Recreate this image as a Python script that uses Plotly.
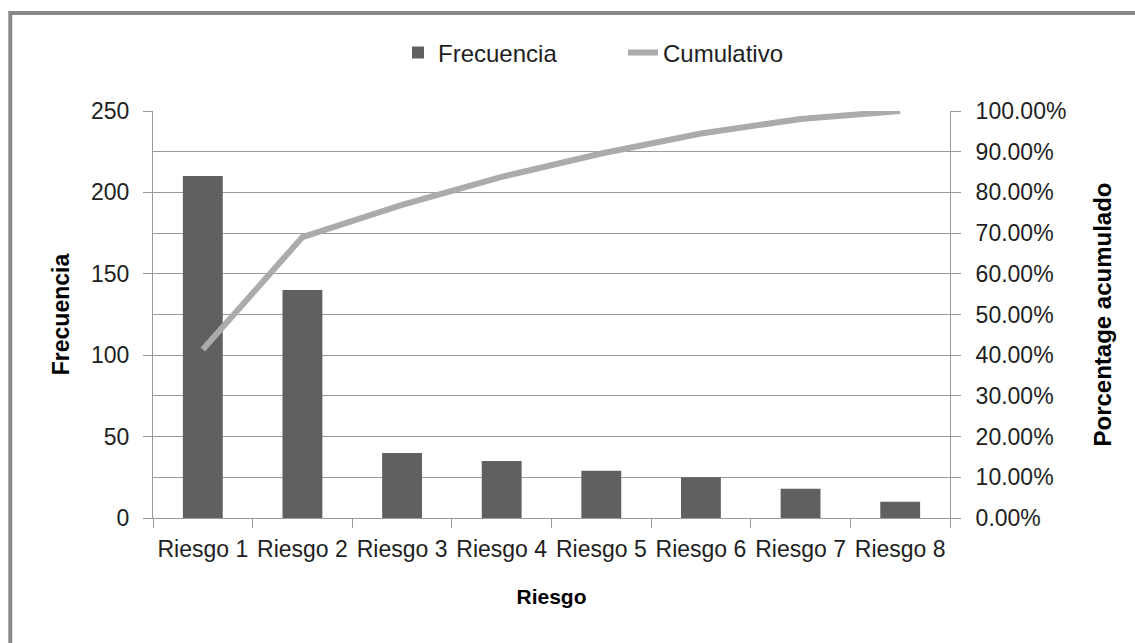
import plotly.graph_objects as go

# Pareto data: frequency per risk and cumulative share
riesgos = ["Riesgo 1", "Riesgo 2", "Riesgo 3", "Riesgo 4",
           "Riesgo 5", "Riesgo 6", "Riesgo 7", "Riesgo 8"]
frecuencia = [210, 140, 40, 35, 29, 25, 18, 10]
cumulativo = [0.4142, 0.6903, 0.7692, 0.8383, 0.8955, 0.9448, 0.9803, 1.0]

freq_ticks = [0, 50, 100, 150, 200, 250]
pct_ticks = [i / 10 for i in range(11)]

W, H = 1135, 643
L, R, T, B = 153, 185, 111, 125
PW, PH = W - L - R, H - T - B

FONT = "Liberation Sans, Arial, Helvetica, sans-serif"
TXT = "#1e1e1e"
GRID = "#9a9a9a"


def px_x(x):
    return (x - L) / PW


def px_y(y):
    return 1 - (y - T) / PH


fig = go.Figure()

fig.add_trace(go.Bar(
    x=riesgos, y=frecuencia, name="Frecuencia",
    marker=dict(color="#606060", line=dict(width=0)),
    yaxis="y",
))
fig.add_trace(go.Scatter(
    x=riesgos, y=cumulativo, name="Cumulativo", mode="lines",
    line=dict(color="#ababab", width=6),
    yaxis="y2",
))

fig.update_layout(
    width=W, height=H,
    margin=dict(l=L, r=R, t=T, b=B, autoexpand=False),
    paper_bgcolor="white", plot_bgcolor="white",
    font=dict(family=FONT, color=TXT, size=23),
    bargap=0.6,
    showlegend=True,
    legend=dict(
        orientation="h", x=px_x(398), xanchor="left",
        y=px_y(53), yanchor="middle",
        font=dict(size=24, color=TXT),
        entrywidth=180, entrywidthmode="pixels",
        bgcolor="rgba(0,0,0,0)",
    ),
    xaxis=dict(
        type="category", tickangle=0,
        tickson="boundaries", ticks="outside", ticklen=9, tickcolor=GRID,
        showline=True, linecolor=GRID, linewidth=1,
        showgrid=False, automargin=False,
        ticklabelstandoff=10,
        tickfont=dict(size=23, color=TXT),
        title=dict(text="<b>Riesgo</b>", font=dict(size=21, color="#000"), standoff=28),
    ),
    yaxis=dict(
        range=[0, 250], tickvals=freq_ticks,
        ticks="outside", ticklen=9, tickcolor=GRID,
        showline=True, linecolor=GRID, linewidth=1,
        showgrid=True, gridcolor=GRID, gridwidth=1,
        minor=dict(dtick=25, showgrid=True, gridcolor=GRID, gridwidth=1, ticks=""),
        zeroline=False, automargin=False,
        ticklabelstandoff=9,
        tickfont=dict(size=23, color=TXT),
        title=dict(text="<b>Frecuencia</b>", font=dict(size=23, color="#000"), standoff=14),
    ),
    yaxis2=dict(
        range=[0, 1], tickvals=pct_ticks, tickformat=".2%",
        overlaying="y", side="right",
        ticks="outside", ticklen=10, tickcolor=GRID,
        showline=True, linecolor=GRID, linewidth=1,
        showgrid=False, zeroline=False, automargin=False,
        ticklabelstandoff=10,
        tickfont=dict(size=23, color=TXT),
        title=dict(text="<b>Porcentage acumulado</b>", font=dict(size=24, color="#000"), standoff=28),
    ),
    shapes=[dict(
        type="rect", xref="paper", yref="paper",
        x0=px_x(10.3), x1=px_x(1145), y0=px_y(13), y1=px_y(660),
        line=dict(color="#888888", width=4), fillcolor="rgba(0,0,0,0)",
        layer="below",
    )],
)

fig.write_html("out.html")
